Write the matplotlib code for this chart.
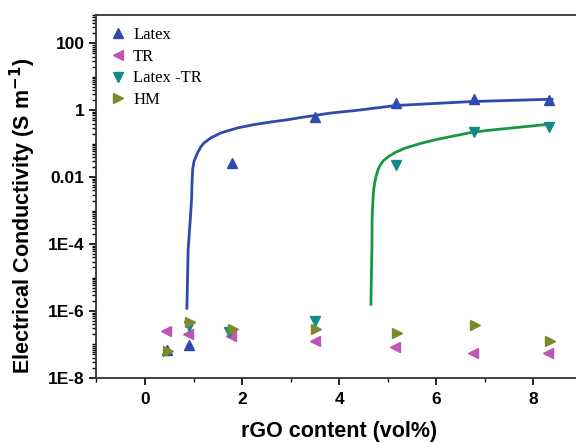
import matplotlib
matplotlib.use("Agg")
import matplotlib.pyplot as plt
import numpy as np
from matplotlib.ticker import LogLocator, FixedLocator, FuncFormatter, MultipleLocator

# --- data (x in vol%, y as log10 of S/m) ---
x_pts = [0.46, 0.90, 1.79, 3.51, 5.16, 6.77, 8.31]
x_tr = [0.44, 0.89, 1.78, 3.50, 5.14, 6.76, 8.30]
x_hm = [0.47, 0.93, 1.81, 3.53, 5.18, 6.79, 8.33]
x_ltr = [0.90, 1.73, 3.51, 5.16, 6.77, 8.31]

latex_log = [-7.17, -7.02, -1.57, -0.20, 0.21, 0.34, 0.31]
tr_log = [-6.59, -6.69, -6.76, -6.89, -7.07, -7.26, -7.26]
latex_tr_log = [-6.46, -6.63, -6.29, -1.65, -0.65, -0.51]
hm_log = [-7.19, -6.34, -6.54, -6.54, -6.66, -6.41, -6.89]

# fit curves
latex_fit_x = [0.862, 0.888, 0.930, 0.960, 0.967, 0.981, 1.008, 1.078, 1.146,
               1.213, 1.351, 1.557, 1.900, 2.242, 2.585, 2.929, 3.270, 3.819,
               4.333, 5.156, 6.733, 8.38]
latex_fit_log = [-5.92, -4.16, -3.30, -2.62, -2.17, -1.774, -1.53, -1.28, -1.10,
                 -0.98, -0.83, -0.68, -0.53, -0.43, -0.353, -0.285, -0.204, -0.085,
                 -0.008, 0.141, 0.260, 0.33]
ltr_fit_x = [4.652, 4.662, 4.672, 4.677, 4.690, 4.709, 4.730, 4.759, 4.800,
             4.847, 4.915, 5.018, 5.156, 5.361, 5.705, 6.046, 6.390, 6.733,
             7.075, 7.418, 7.897, 8.378]
ltr_fit_log = [-5.80, -4.90, -4.16, -3.21, -2.77, -2.37, -2.17, -1.97, -1.77,
               -1.63, -1.50, -1.38, -1.26, -1.13, -0.98, -0.86, -0.76, -0.66,
               -0.60, -0.55, -0.48, -0.41]

c_latex = "#3049ac"
c_tr = "#bf55b4"
c_ltr = "#13898a"
c_hm = "#7d8a2c"
c_green = "#17983f"

fig = plt.figure(figsize=(5.76, 4.43), dpi=100)
ax = fig.add_axes([0.1675, 0.147, 0.843, 0.819])

ax.plot(latex_fit_x, 10 ** np.array(latex_fit_log), color=c_latex, lw=2,
        solid_joinstyle="round")
ax.plot(ltr_fit_x, 10 ** np.array(ltr_fit_log), color=c_green, lw=2,
        solid_joinstyle="round")

ms = 7.5
ax.plot(x_pts, 10 ** np.array(latex_log), "^", color=c_latex, ms=ms, ls="none", label="Latex")
ax.plot(x_tr, 10 ** np.array(tr_log), "<", color=c_tr, ms=ms, ls="none", label="TR")
ax.plot(x_ltr, 10 ** np.array(latex_tr_log), "v", color=c_ltr, ms=ms, ls="none", label="Latex -TR")
ax.plot(x_hm, 10 ** np.array(hm_log), ">", color=c_hm, ms=ms, ls="none", label="HM")

ax.set_yscale("log")
ax.set_xlim(-1, 9)
ax.set_ylim(1e-8, 700)

ax.xaxis.set_major_locator(MultipleLocator(2))
ax.xaxis.set_minor_locator(MultipleLocator(1))
ax.yaxis.set_major_locator(FixedLocator([1e-8, 1e-6, 1e-4, 1e-2, 1, 100]))
ax.yaxis.set_minor_locator(LogLocator(base=10, subs=np.arange(1, 10), numticks=50))

def fmt(v, pos):
    labels = {100: "100", 1: "1", 0.01: "0.01", 1e-4: "1E-4", 1e-6: "1E-6", 1e-8: "1E-8"}
    for k, s in labels.items():
        if abs(np.log10(v) - np.log10(k)) < 1e-6:
            return s
    return ""

ax.yaxis.set_major_formatter(FuncFormatter(fmt))
ax.yaxis.set_minor_formatter(FuncFormatter(lambda v, p: ""))

ax.tick_params(axis="both", which="major", direction="out", length=5, width=1.2,
               labelsize=12.5)
ax.tick_params(axis="x", which="major", pad=5)
ax.tick_params(axis="both", which="minor", direction="out", length=3, width=1)
for lab in ax.get_xticklabels() + ax.get_yticklabels():
    lab.set_fontweight("bold")
    lab.set_family("Liberation Sans")

for s in ax.spines.values():
    s.set_linewidth(1.3)
    s.set_color("#333333")

ax.set_xlabel("rGO content (vol%)", fontsize=15.5, fontweight="bold",
              family="Liberation Sans", labelpad=10)
ax.set_ylabel("Electrical Conductivity (S m$^{\\mathbf{-1}}$)", fontsize=15.5,
              fontweight="bold", family="Liberation Sans")
ax.yaxis.set_label_coords(-0.121, 0.446)

ax.legend(loc="upper left", frameon=False, prop={"family": "Liberation Serif", "size": 12},
          handletextpad=0.3, labelspacing=0.35, borderaxespad=0.3, handlelength=1.2)

fig.savefig("out.png", dpi=100)
